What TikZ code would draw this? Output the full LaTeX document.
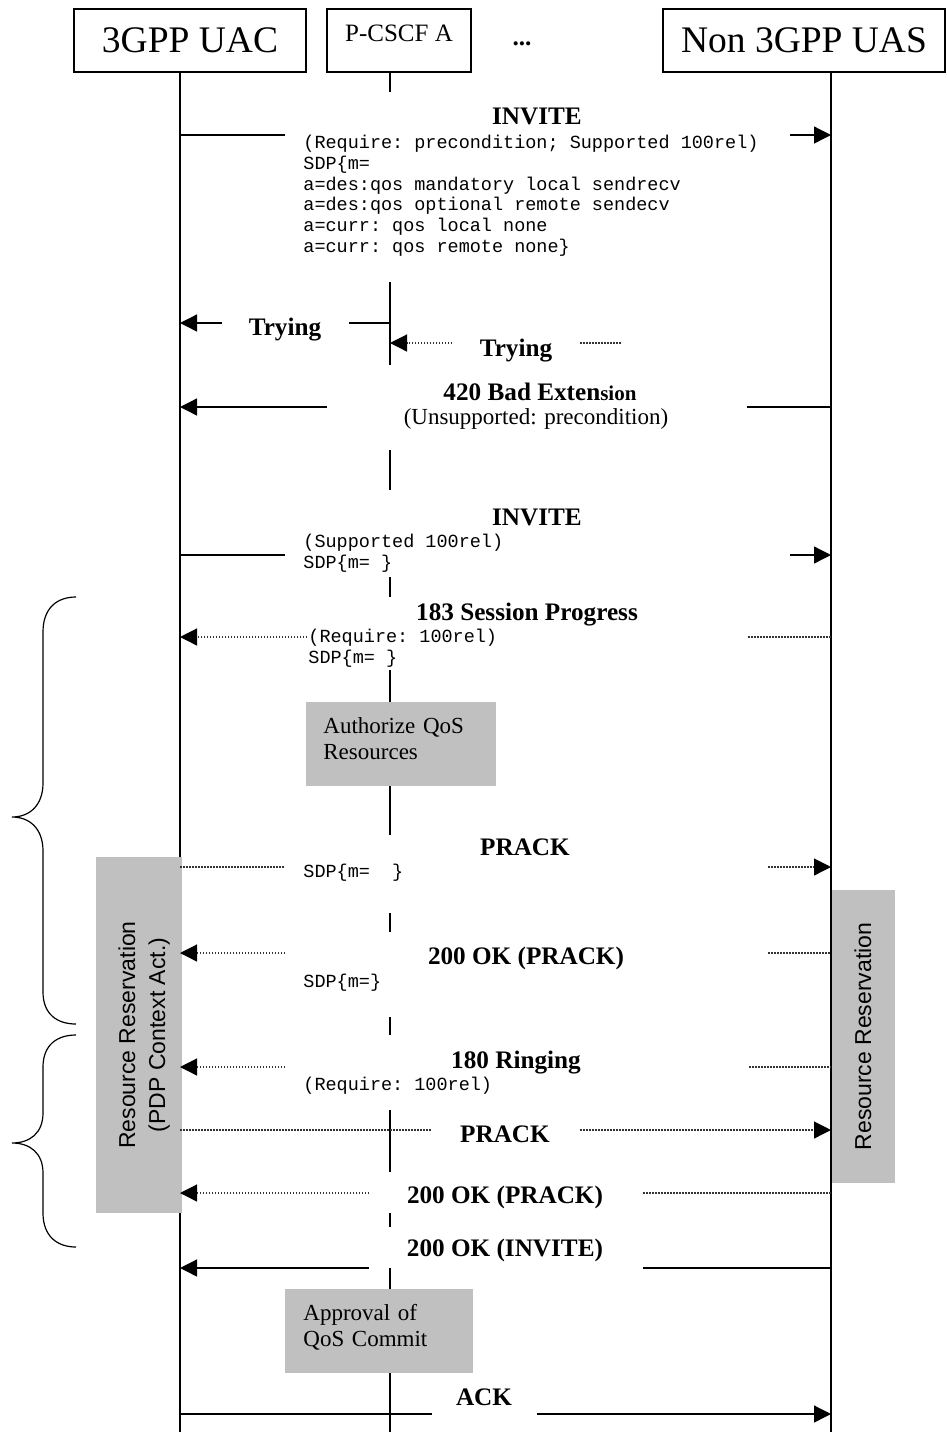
\documentclass[tikz,border=0pt]{standalone}
\usepackage{fontspec}
\setmainfont{Liberation Serif}
\setsansfont{Liberation Sans}
\setmonofont{Liberation Mono}
\usetikzlibrary{arrows.meta}
\definecolor{boxgray}{HTML}{C0C0C0}
\begin{document}
\begin{tikzpicture}[x=0.5pt,y=-0.5pt,
 life/.style={line width=0.75pt},
 sol/.style={line width=0.65pt},
 dot/.style={line width=0.6pt, dash pattern=on 0.75pt off 0.75pt, black!80},
 tip/.style={-{Triangle[length=8.5pt,width=8.5pt,color=black]}},
 head/.style={draw, line width=0.65pt, minimum height=31.5pt, inner sep=0pt},
 lbl/.style={font=\fontsize{12.6}{15}\selectfont\bfseries, inner sep=0pt, anchor=base},
 mono/.style={font=\fontsize{9.25}{10.4}\selectfont\ttfamily, inner sep=0pt, anchor=north west, align=left},
 monoline/.style={font=\fontsize{9.25}{10.4}\selectfont\ttfamily, inner sep=0pt, anchor=base west},
 plain/.style={font=\fontsize{11.5}{13}\selectfont, inner sep=0pt, anchor=base},
 gbox/.style={fill=boxgray, inner sep=0pt},
 qbox/.style={gbox, font=\fontsize{11.5}{13}\selectfont, align=left, anchor=north west, minimum height=42pt},
 rr/.style={font=\fontsize{11.5}{15}\selectfont\sffamily, rotate=90, align=center},
 brace/.style={line width=0.6pt}
]
\useasboundingbox (0,0) rectangle (947,1432);

% header boxes
\node[head, minimum width=116pt, font=\fontsize{18.75}{22}\selectfont] (uac) at (190,40.5) {3GPP UAC};
\node[head, minimum width=72pt, text depth=7pt, font=\fontsize{12.5}{15}\selectfont] (pcscf) at (399,40.5) {P-CSCF A};
\node[lbl] (dots) at (522,45) {...};
\node[head, minimum width=141pt, font=\fontsize{18.75}{22}\selectfont] (uas) at (804,40.5) {Non 3GPP UAS};

% lifeline end points
\coordinate (uacT) at (180,72);  \coordinate (uacB) at (180,1432);
\coordinate (uasT) at (831,72);  \coordinate (uasB) at (831,1432);

% right resource reservation box (under the lifeline)
\node[gbox, rr, minimum width=146.5pt, minimum height=32pt] (rrR) at (863,1036.5) {Resource Reservation};

% lifelines
\draw[life] (uacT) -- (uacB);
\draw[life] (uasT) -- (uasB);
\draw[life] (390,72)--(390,92) (390,282)--(390,365) (390,450)--(390,490)
  (390,577)--(390,597) (390,670)--(390,702) (390,786)--(390,835)
  (390,913)--(390,932) (390,1017)--(390,1035) (390,1110)--(390,1172)
  (390,1213)--(390,1227) (390,1268)--(390,1289) (390,1373)--(390,1432);

% left resource reservation box (over the lifeline)
\node[gbox, rr, minimum width=178pt, minimum height=43pt] (rrL) at (139,1035) {\mbox{}\\[-1.5pt]Resource Reservation\\(PDP Context Act.)};

% QoS boxes
\node[qbox, text width=78pt, inner xsep=8.5pt] (auth) at (306,702) {Authorize QoS\\Resources\\[-7pt]\mbox{}};
\node[qbox, text width=76pt, inner xsep=9pt] (appr) at (285,1289) {Approval of\\QoS Commit\\[-7pt]\mbox{}};

% braces
\draw[brace] (76,597) .. controls (57,597) and (43,608) .. (43,632) -- (43,783)
  .. controls (43,805) and (30,817) .. (12,817)
  .. controls (30,817) and (43,829) .. (43,851) -- (43,992)
  .. controls (43,1014) and (57,1024) .. (76,1024);
\draw[brace] (76,1035) .. controls (57,1035) and (43,1045) .. (43,1067) -- (43,1113)
  .. controls (43,1133) and (30,1143) .. (12,1143)
  .. controls (30,1143) and (43,1153) .. (43,1173) -- (43,1213)
  .. controls (43,1236) and (57,1247) .. (76,1247);

% messages
\draw[sol] (180,135) -- (285,135);
\draw[sol,tip] (790,135) -- (831,135);
\draw[sol] (390,323) -- (349,323);
\draw[sol,tip] (222,323) -- (180,323);
\draw[dot,tip] (452,343) -- (390,343);
\draw[dot] (580,343) -- (621,343);
\draw[sol,tip] (327,407) -- (180,407);
\draw[sol] (747,407) -- (831,407);
\draw[sol] (180,555) -- (285,555);
\draw[sol,tip] (790,555) -- (831,555);
\draw[dot,tip] (307,637) -- (180,637);
\draw[dot] (748,637) -- (831,637);
\draw[dot] (180,867) -- (285,867);
\draw[dot,tip] (768,867) -- (831,867);
\draw[dot,tip] (285,953) -- (180,953);
\draw[dot] (768,953) -- (831,953);
\draw[dot,tip] (285,1067) -- (180,1067);
\draw[dot] (749,1067) -- (831,1067);
\draw[dot] (180,1130) -- (432,1130);
\draw[dot,tip] (580,1130) -- (831,1130);
\draw[dot,tip] (369,1193) -- (180,1193);
\draw[dot] (643,1193) -- (831,1193);
\draw[sol,tip] (369,1268) -- (180,1268);
\draw[sol] (643,1268) -- (831,1268);
\draw[sol] (180,1414) -- (432,1414);
\draw[sol,tip] (537,1414) -- (831,1414);

% labels
\node[lbl] (l1) at (537,124) {INVITE};
\node[mono] (m1) at (303,134) {\rule{0pt}{7pt}(Require: precondition; Supported 100rel)\\SDP\{m=\\a=des:qos mandatory local sendrecv\\a=des:qos optional remote sendecv\\a=curr: qos local none\\a=curr: qos remote none\}};
\node[lbl] (l2) at (285,335) {Trying};
\node[lbl] (l3) at (516,356) {Trying};
\node[lbl] (l4) at (540,400) {420 Bad Exten{\fontsize{10.5}{12}\selectfont sion}};
\node[plain] (l4b) at (536,424) {(Unsupported: precondition)};
\node[lbl] (l5) at (537,525) {INVITE};
\node[mono] (m5) at (303,533) {\rule{0pt}{7pt}(Supported 100rel)\\SDP\{m= \}};
\node[lbl] (l6) at (527,620) {183 Session Progress};
\node[mono] (m6) at (308,628) {\rule{0pt}{7pt}(Require: 100rel)\\SDP\{m= \}};
\node[lbl] (l7) at (525,855) {PRACK};
\node[monoline] (m7) at (303,877) {SDP\{m=\ \ \}};
\node[lbl] (l8) at (526,964) {200 OK (PRACK)};
\node[monoline] (m8) at (303,987) {SDP\{m=\}};
\node[lbl] (l9) at (516,1068) {180 Ringing};
\node[monoline] (m9) at (303,1090) {(Require: 100rel)};
\node[lbl] (l10) at (505,1142) {PRACK};
\node[lbl] (l11) at (505,1203) {200 OK (PRACK)};
\node[lbl] (l12) at (505,1256) {200 OK (INVITE)};
\node[lbl] (l13) at (484,1405) {ACK};
\end{tikzpicture}
\end{document}
